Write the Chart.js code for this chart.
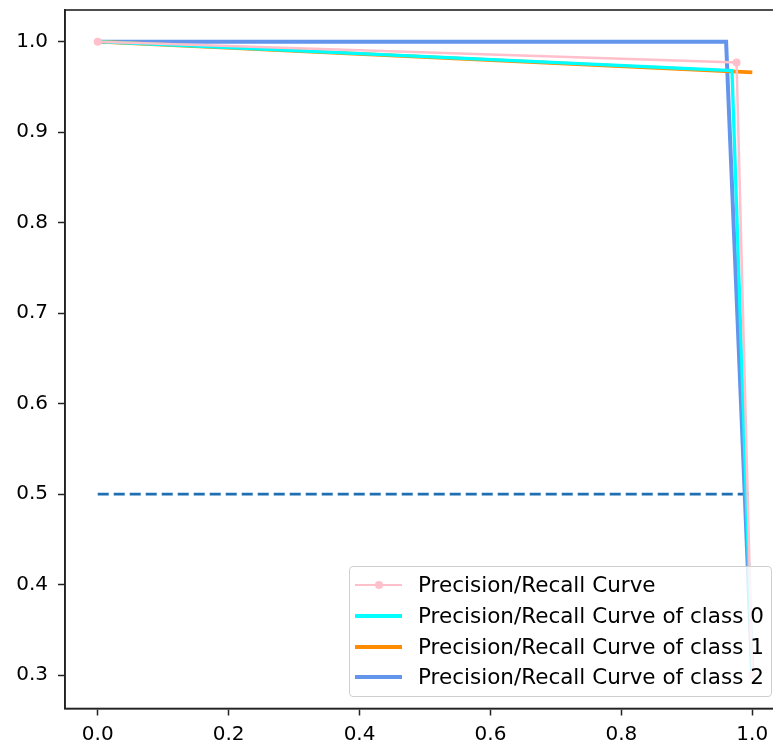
<!DOCTYPE html>
<html>
<head>
<meta charset="utf-8">
<script src="https://cdn.jsdelivr.net/npm/chart.js@4.4.1/dist/chart.umd.min.js"></script>
<style>
  html, body { margin: 0; padding: 0; background: #fff; overflow: hidden; }
  #wrap { position: relative; width: 773px; height: 742px; overflow: hidden; }
  #prChart { position: absolute; left: 0; top: 0; }
  .legend {
    position: absolute; left: 349px; top: 566px; width: 421px; height: 129px;
    border: 1px solid #cfcfcf; border-radius: 4px; background: rgba(255,255,255,0.8);
    font-family: "DejaVu Sans", sans-serif; font-size: 21.5px; color: #000;
  }
  .legend .row { position: absolute; left: 0; height: 30px; width: 100%; }
  .legend .handle { position: absolute; left: 5px; width: 47px; }
  .legend .dot { position: absolute; left: 25px; top: 11px; width: 8px; height: 8px; border-radius: 50%; background: #ffc0cb; }
  .legend .label { position: absolute; left: 68px; top: 2px; line-height: 26px; white-space: nowrap; }
</style>
</head>
<body>
<div id="wrap">
  <!-- the original figure is cropped on the right, so the canvas runs past the window -->
  <canvas id="prChart" width="789" height="742"></canvas>
  <div class="legend" id="legend"></div>
</div>
<script>
// tick labels
const xTicks = [0.0, 0.2, 0.4, 0.6, 0.8, 1.0];
const yTicks = [0.3, 0.4, 0.5, 0.6, 0.7, 0.8, 0.9, 1.0];

// curves (recall on x, precision on y)
const recallAll = [0.0, 0.976, 1.0];
const precisionAll = [1.0, 0.977, 0.3];
const recallC0 = [0.0, 0.969, 1.0];
const precisionC0 = [1.0, 0.968, 0.3];
const recallC1 = [0.0, 1.0];
const precisionC1 = [1.0, 0.966];
const recallC2 = [0.0, 0.96, 1.0];
const precisionC2 = [1.0, 1.0, 0.298];
const baseX = [0.0, 1.0];
const baseY = [0.5, 0.5];

const seriesNames = [
    'Precision/Recall Curve',
    'Precision/Recall Curve of class 0',
    'Precision/Recall Curve of class 1',
    'Precision/Recall Curve of class 2'
];
const seriesColors = ['#ffc0cb', '#00ffff', '#ff8c00', '#6495ed'];

const pts = (xs, ys) => xs.map((x, i) => ({ x: x, y: ys[i] }));

// axes box (top + right spines)
const framePlugin = {
    id: 'frame',
    afterDatasetsDraw(chart) {
        const a = chart.chartArea, ctx = chart.ctx;
        ctx.save();
        ctx.strokeStyle = '#222';
        ctx.lineWidth = 1.6;
        ctx.strokeRect(a.left, a.top, a.right - a.left, a.bottom - a.top);
        ctx.restore();
    }
};

const noPad = s => { s.paddingTop = 0; s.paddingBottom = 0; s.paddingLeft = 0; s.paddingRight = 0; };

new Chart(document.getElementById('prChart'), {
    type: 'scatter',
    data: {
        datasets: [
            { label: seriesNames[0], data: pts(recallAll, precisionAll), showLine: true, borderColor: seriesColors[0], backgroundColor: seriesColors[0], borderWidth: 2.5, pointRadius: 4, pointBorderWidth: 0 },
            { label: seriesNames[1], data: pts(recallC0, precisionC0), showLine: true, borderColor: seriesColors[1], borderWidth: 3.3, pointRadius: 0 },
            { label: seriesNames[2], data: pts(recallC1, precisionC1), showLine: true, borderColor: seriesColors[2], borderWidth: 3.8, pointRadius: 0 },
            { label: seriesNames[3], data: pts(recallC2, precisionC2), showLine: true, borderColor: seriesColors[3], borderWidth: 4, pointRadius: 0 },
            { label: 'baseline', data: pts(baseX, baseY), showLine: true, borderColor: '#1f6fb2', borderWidth: 2.7, borderDash: [11, 5], pointRadius: 0 }
        ]
    },
    options: {
        responsive: false,
        devicePixelRatio: 1,
        animation: false,
        layout: { padding: { left: 0, top: 10, right: 0, bottom: 0 } },
        plugins: { legend: { display: false }, tooltip: { enabled: false } },
        elements: { line: { tension: 0, borderCapStyle: 'butt', borderJoinStyle: 'miter' } },
        scales: {
            x: {
                type: 'linear', min: -0.05, max: 1.05,
                afterBuildTicks: s => { s.ticks = xTicks.map(v => ({ value: v })); },
                afterFit: s => { s.height = 33.5; noPad(s); },
                grid: { drawOnChartArea: false, tickLength: 7, tickColor: '#222', tickWidth: 1.5 },
                border: { color: '#222', width: 1.6 },
                ticks: { padding: 7, color: '#000', font: { family: 'DejaVu Sans', size: 20 }, callback: v => v.toFixed(1) }
            },
            y: {
                type: 'linear', min: 0.263, max: 1.035,
                afterBuildTicks: s => { s.ticks = yTicks.map(v => ({ value: v })); },
                afterFit: s => { s.width = 65; noPad(s); },
                grid: { drawOnChartArea: false, tickLength: 7, tickColor: '#222', tickWidth: 1.5 },
                border: { color: '#222', width: 1.6 },
                ticks: { padding: 10, color: '#000', font: { family: 'DejaVu Sans', size: 20 }, callback: v => v.toFixed(1) }
            }
        }
    },
    plugins: [framePlugin]
});

// legend inside the axes, lower right
const legend = document.getElementById('legend');
seriesNames.forEach((name, i) => {
    const row = document.createElement('div');
    row.className = 'row';
    row.style.top = (3 + i * 30.8) + 'px';
    row.innerHTML = `<div class="handle" style="background:${seriesColors[i]};height:${i === 0 ? 2 : 4}px;top:${i === 0 ? 14 : 13}px"></div>` +
        (i === 0 ? '<div class="dot"></div>' : '') +
        `<div class="label">${name}</div>`;
    legend.appendChild(row);
});
</script>
</body>
</html>
